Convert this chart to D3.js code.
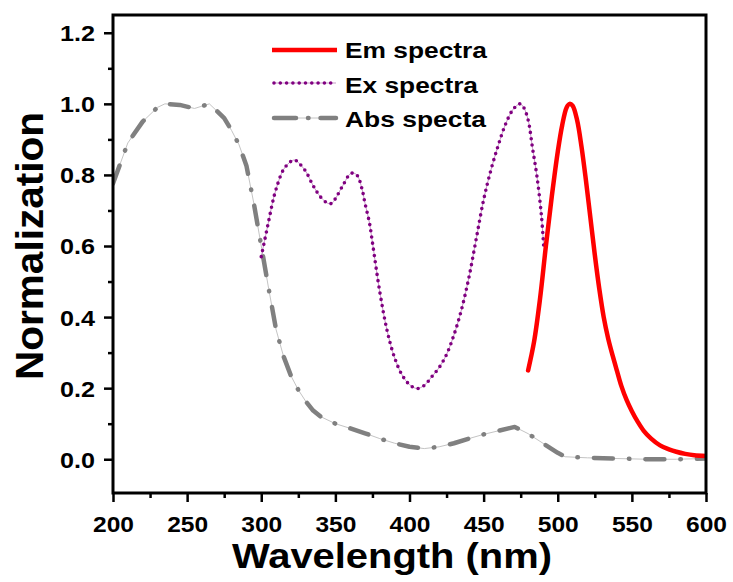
<!DOCTYPE html>
<html>
<head>
<meta charset="utf-8">
<script src="https://cdn.jsdelivr.net/npm/d3@7"></script>
<style>
  html, body { margin: 0; padding: 0; background: #fff; }
  svg { display: block; font-family: "Liberation Sans", Arial, sans-serif; font-weight: bold; }
</style>
</head>
<body>
<svg id="chart" width="733" height="582"></svg>
<script>
// Emission spectrum (wavelength nm, normalized intensity)
const emWavelength = [480, 484, 488, 492, 496, 500, 503, 506, 508, 510, 513, 516, 519, 522, 525, 528, 531, 534, 537, 540, 543, 546.5, 550, 554, 558, 563, 569, 575, 580, 586, 592, 600];
const emValues     = [0.25, 0.33, 0.45, 0.60, 0.74, 0.865, 0.94, 0.99, 1.0, 0.995, 0.955, 0.88, 0.785, 0.68, 0.575, 0.48, 0.40, 0.34, 0.292, 0.248, 0.205, 0.166, 0.135, 0.105, 0.08, 0.058, 0.039, 0.028, 0.021, 0.015, 0.011, 0.009];

// Excitation spectrum
const exWavelength = [300, 302.5, 305, 307.5, 310, 315, 320, 322.5, 325, 330, 335, 340, 345, 347.5, 350, 355, 360, 362.5, 365, 368, 370, 373, 375, 380, 385, 390, 395, 400, 405, 410, 415, 420, 425, 430, 435, 440, 445, 450, 455, 460, 465, 470, 474.5, 477, 480, 483, 486, 489, 490.5];
const exValues     = [0.57, 0.62, 0.67, 0.72, 0.76, 0.815, 0.838, 0.842, 0.835, 0.81, 0.77, 0.738, 0.72, 0.72, 0.733, 0.77, 0.803, 0.805, 0.797, 0.76, 0.72, 0.665, 0.61, 0.47, 0.36, 0.285, 0.237, 0.21, 0.199, 0.208, 0.232, 0.258, 0.295, 0.35, 0.42, 0.51, 0.62, 0.73, 0.815, 0.885, 0.945, 0.985, 1.0, 0.99, 0.955, 0.875, 0.795, 0.685, 0.6];

// Absorption spectrum
const absWavelength = [200, 210, 220, 230, 235, 245, 255, 265, 275, 280, 285, 290, 295, 300, 305, 310, 315, 320, 325, 330, 335, 340, 350, 360, 370, 380, 390, 400, 410, 420, 430, 440, 450, 460, 471, 480, 490, 500, 505, 520, 540, 560, 580, 600];
const absValues     = [0.776, 0.89, 0.95, 0.99, 1.0, 0.997, 0.987, 1.0, 0.96, 0.925, 0.885, 0.826, 0.72, 0.60, 0.48, 0.365, 0.29, 0.235, 0.195, 0.163, 0.137, 0.12, 0.1, 0.087, 0.073, 0.058, 0.045, 0.035, 0.03, 0.035, 0.045, 0.058, 0.07, 0.08, 0.091, 0.072, 0.045, 0.018, 0.007, 0.004, 0.002, 0.0, 0.0, 0.002];

// Axis ticks and legend labels
const xMajorTicks = [200, 250, 300, 350, 400, 450, 500, 550, 600];
const xMinorTicks = [225, 275, 325, 375, 425, 475, 525, 575];
const yMajorTicks = [0.0, 0.2, 0.4, 0.6, 0.8, 1.0, 1.2];
const yMinorTicks = [0.1, 0.3, 0.5, 0.7, 0.9, 1.1];
const seriesNames = ["Em spectra", "Ex spectra", "Abs specta"];

const svg = d3.select("#chart");
const plot = { left: 113, right: 706, top: 15, bottom: 493 };

const x = d3.scaleLinear().domain([200, 600]).range([plot.left, plot.right]);
const y = d3.scaleLinear().domain([-0.095, 1.25]).range([plot.bottom, plot.top]);

const zip = (xs, ys) => xs.map((v, i) => [v, ys[i]]);
const emData = zip(emWavelength, emValues);
const exData = zip(exWavelength, exValues);
const absData = zip(absWavelength, absValues);

const smooth = d3.line().x(d => x(d[0])).y(d => y(d[1])).curve(d3.curveCatmullRom.alpha(0.5));
const straight = d3.line().x(d => x(d[0])).y(d => y(d[1]));

svg.append("defs").append("clipPath").attr("id", "plotClip")
  .append("rect").attr("x", plot.left).attr("y", plot.top)
  .attr("width", plot.right - plot.left).attr("height", plot.bottom - plot.top);

const curves = svg.append("g").attr("clip-path", "url(#plotClip)");

// Absorption: thin guide line under a dash-dot stroke
curves.append("path").datum(absData).attr("d", straight)
  .attr("fill", "none").attr("stroke", "#c4c4c4").attr("stroke-width", 1);
curves.append("path").datum(absData).attr("d", straight)
  .attr("fill", "none").attr("stroke", "#808080").attr("stroke-width", 4.5)
  .attr("stroke-linecap", "round").attr("stroke-linejoin", "round")
  .attr("stroke-dasharray", "19 16 0.5 16");

// Excitation: thin guide line under round dots
curves.append("path").datum(exData).attr("d", smooth)
  .attr("fill", "none").attr("stroke", "#c79ac7").attr("stroke-width", 1);
curves.append("path").datum(exData).attr("d", smooth)
  .attr("fill", "none").attr("stroke", "#800080").attr("stroke-width", 3.6)
  .attr("stroke-linecap", "round").attr("stroke-dasharray", "0 6.3");

// Emission: solid red
curves.append("path").datum(emData).attr("d", smooth)
  .attr("fill", "none").attr("stroke", "#ff0000").attr("stroke-width", 4.5)
  .attr("stroke-linecap", "round").attr("stroke-linejoin", "round");

// Axes
const xAxis = svg.append("g").attr("transform", `translate(0,${plot.bottom})`)
  .call(d3.axisBottom(x).tickValues(xMajorTicks).tickSize(9).tickFormat(d3.format("d")));
xAxis.select(".domain").remove();
xAxis.selectAll(".tick line").attr("stroke", "#000").attr("stroke-width", 2.5);
xAxis.selectAll(".tick text")
  .attr("y", 39).attr("dy", null)
  .attr("font-size", 22).attr("font-weight", "bold").attr("fill", "#000")
  .attr("font-family", "Liberation Sans, Arial, sans-serif")
  .attr("textLength", 41).attr("lengthAdjust", "spacingAndGlyphs");

const xMinor = svg.append("g").attr("transform", `translate(0,${plot.bottom})`)
  .call(d3.axisBottom(x).tickValues(xMinorTicks).tickSize(5).tickFormat(""));
xMinor.select(".domain").remove();
xMinor.selectAll(".tick line").attr("stroke", "#000").attr("stroke-width", 2.5);

const yAxis = svg.append("g").attr("transform", `translate(${plot.left},0)`)
  .call(d3.axisLeft(y).tickValues(yMajorTicks).tickSize(9).tickFormat(d3.format(".1f")));
yAxis.select(".domain").remove();
yAxis.selectAll(".tick line").attr("stroke", "#000").attr("stroke-width", 2.5);
yAxis.selectAll(".tick text")
  .attr("x", -18).attr("dy", "0.36em")
  .attr("font-size", 22).attr("font-weight", "bold").attr("fill", "#000")
  .attr("font-family", "Liberation Sans, Arial, sans-serif")
  .attr("textLength", 35).attr("lengthAdjust", "spacingAndGlyphs");

const yMinor = svg.append("g").attr("transform", `translate(${plot.left},0)`)
  .call(d3.axisLeft(y).tickValues(yMinorTicks).tickSize(5).tickFormat(""));
yMinor.select(".domain").remove();
yMinor.selectAll(".tick line").attr("stroke", "#000").attr("stroke-width", 2.5);

// Frame
svg.append("rect")
  .attr("x", plot.left).attr("y", plot.top)
  .attr("width", plot.right - plot.left).attr("height", plot.bottom - plot.top)
  .attr("fill", "none").attr("stroke", "#000").attr("stroke-width", 3);

// Axis titles
svg.append("text")
  .attr("x", 392).attr("y", 568).attr("text-anchor", "middle")
  .attr("font-size", 35).attr("fill", "#000")
  .attr("textLength", 320).attr("lengthAdjust", "spacingAndGlyphs")
  .text("Wavelength (nm)");

svg.append("text")
  .attr("transform", "translate(43,246) rotate(-90)").attr("text-anchor", "middle")
  .attr("font-size", 39).attr("fill", "#000")
  .attr("textLength", 268).attr("lengthAdjust", "spacingAndGlyphs")
  .text("Normalization");

// Legend
const legend = svg.append("g");
const legendRows = [
  { name: seriesNames[0], lineY: 50, baseY: 58, width: 142, stroke: "#ff0000", sw: 4.5, dash: null, cap: "butt", guide: null },
  { name: seriesNames[1], lineY: 83, baseY: 93, width: 133, stroke: "#800080", sw: 3.6, dash: "0 6.3", cap: "round", guide: "#c79ac7" },
  { name: seriesNames[2], lineY: 118, baseY: 127, width: 141, stroke: "#808080", sw: 4.5, dash: "22 12 0.5 12", cap: "round", guide: "#c4c4c4" }
];
legendRows.forEach(r => {
  if (r.guide) {
    legend.append("line").attr("x1", 274).attr("x2", 336).attr("y1", r.lineY).attr("y2", r.lineY)
      .attr("stroke", r.guide).attr("stroke-width", 1);
  }
  legend.append("line")
    .attr("x1", r.cap === "round" ? 274 : 272).attr("x2", r.cap === "round" ? 336 : 337)
    .attr("y1", r.lineY).attr("y2", r.lineY)
    .attr("stroke", r.stroke).attr("stroke-width", r.sw)
    .attr("stroke-linecap", r.cap)
    .attr("stroke-dasharray", r.dash);
  legend.append("text")
    .attr("x", 345).attr("y", r.baseY)
    .attr("font-size", 22).attr("fill", "#000")
    .attr("textLength", r.width).attr("lengthAdjust", "spacingAndGlyphs")
    .text(r.name);
});
</script>
</body>
</html>
